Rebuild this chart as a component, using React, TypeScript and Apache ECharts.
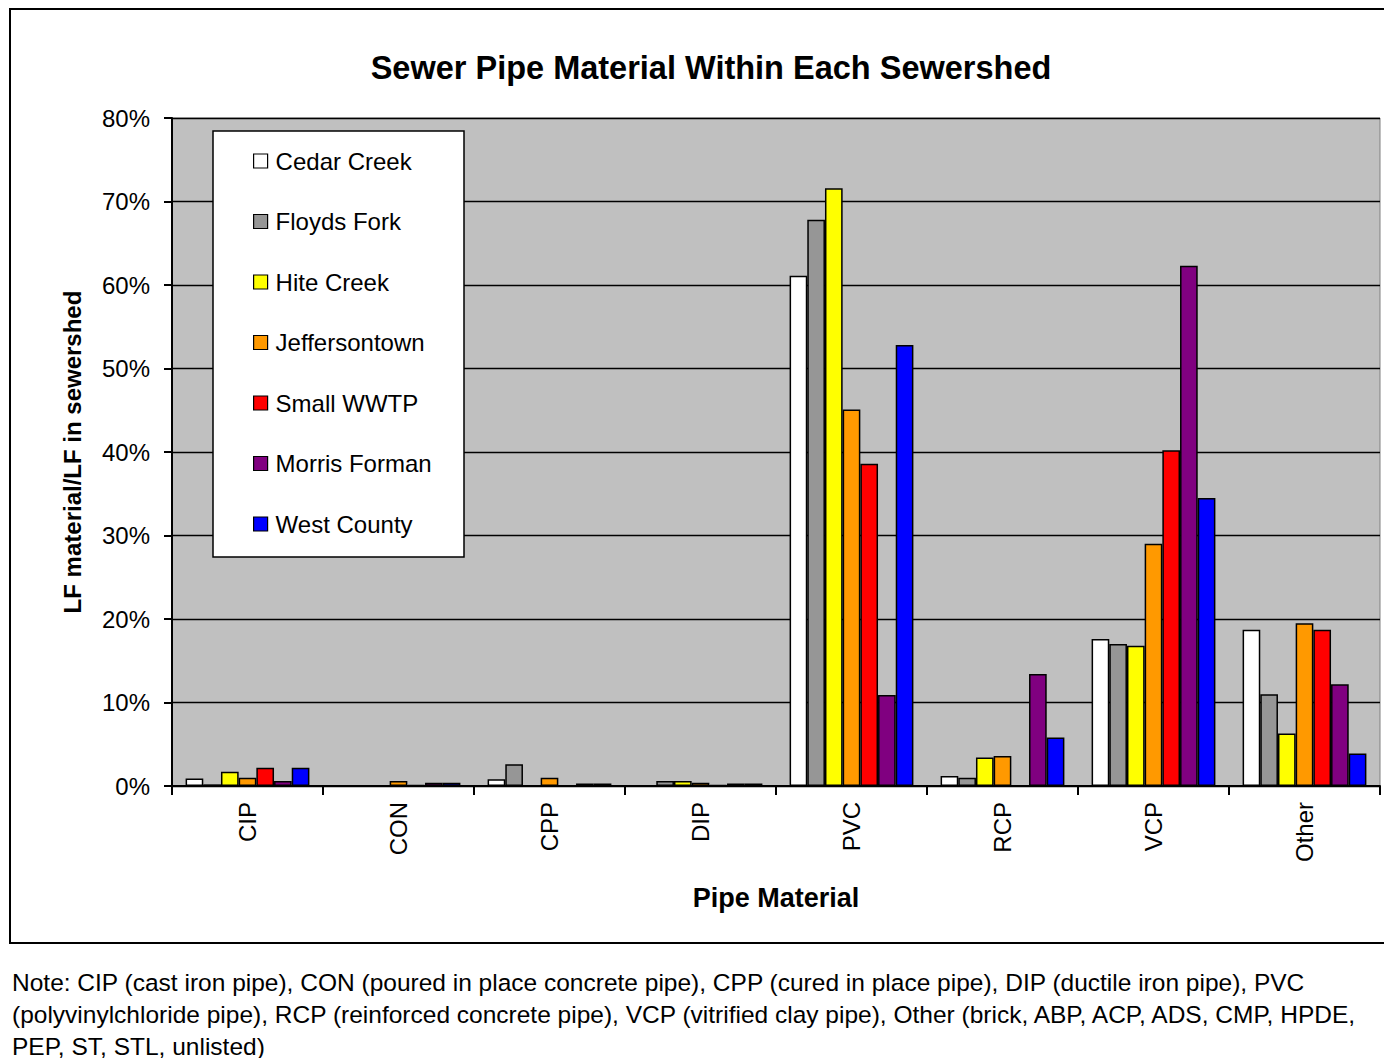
import React, { useEffect, useRef } from "react";
import * as echarts from "echarts";

// Pipe material categories
const categories = ["CIP", "CON", "CPP", "DIP", "PVC", "RCP", "VCP", "Other"];

// Share of linear feet (percent) per sewershed, in category order
const cedarCreek = [0.9, 0, 0.8, 0, 61.1, 1.2, 17.6, 18.7];
const floydsFork = [0.2, 0, 2.6, 0.6, 67.8, 1.0, 17.0, 11.0];
const hiteCreek = [1.7, 0, 0, 0.6, 71.6, 3.4, 16.8, 6.3];
const jeffersontown = [1.0, 0.6, 1.0, 0.4, 45.1, 3.6, 29.0, 19.5];
const smallWWTP = [2.2, 0.1, 0, 0.1, 38.6, 0, 40.2, 18.7];
const morrisForman = [0.6, 0.4, 0.3, 0.3, 10.9, 13.4, 62.3, 12.2];
const westCounty = [2.2, 0.4, 0.3, 0.3, 52.8, 5.8, 34.5, 3.9];

const seriesNames = [
  "Cedar Creek",
  "Floyds Fork",
  "Hite Creek",
  "Jeffersontown",
  "Small WWTP",
  "Morris Forman",
  "West County",
];
const seriesValues = [
  cedarCreek,
  floydsFork,
  hiteCreek,
  jeffersontown,
  smallWWTP,
  morrisForman,
  westCounty,
];
const seriesColors = [
  "#FFFFFF",
  "#969696",
  "#FFFF00",
  "#FF9900",
  "#FF0000",
  "#800080",
  "#0000FF",
];

const noteLines = [
  "Note: CIP (cast iron pipe), CON (poured in place concrete pipe), CPP (cured in place pipe), DIP (ductile iron pipe), PVC",
  "(polyvinylchloride pipe), RCP (reinforced concrete pipe), VCP (vitrified clay pipe), Other (brick, ABP, ACP, ADS, CMP, HPDE,",
  "PEP, ST, STL, unlisted)",
];

const FONT = "'Liberation Sans', Arial, sans-serif";

export default function App() {
  const ref = useRef<HTMLDivElement>(null);

  useEffect(() => {
    if (!ref.current) return;
    const chart = echarts.init(ref.current, null, { renderer: "svg" });

    chart.setOption({
      animation: false,
      backgroundColor: "#FFFFFF",
      textStyle: { fontFamily: FONT, color: "#000" },
      title: {
        text: "Sewer Pipe Material Within Each Sewershed",
        left: 706,
        top: 46,
        textAlign: "center",
        textStyle: { fontFamily: FONT, fontSize: 32.5, fontWeight: "bold", color: "#000" },
      },
      grid: {
        left: 172,
        right: 4,
        top: 118,
        bottom: 272,
        show: true,
        backgroundColor: "#C0C0C0",
        borderColor: "#808080",
        borderWidth: 1,
      },
      legend: {
        orient: "vertical",
        left: 253,
        top: 149,
        padding: 0,
        itemWidth: 14,
        itemHeight: 14,
        itemGap: 36.5,
        icon: "rect",
        z: 6,
        itemStyle: { borderColor: "#000", borderWidth: 1.2 },
        textStyle: { fontFamily: FONT, fontSize: 24, lineHeight: 24, color: "#000", padding: [0, 0, 0, 3] },
        data: seriesNames,
      },
      xAxis: {
        type: "category",
        data: categories,
        boundaryGap: true,
        name: "Pipe Material",
        nameLocation: "middle",
        nameGap: 98,
        nameTextStyle: { fontFamily: FONT, fontSize: 27, fontWeight: "bold", color: "#000" },
        axisLine: { lineStyle: { color: "#000", width: 2 } },
        axisTick: { show: true, length: 9, lineStyle: { color: "#000", width: 2 } },
        axisLabel: {
          rotate: 90,
          margin: 16,
          fontFamily: FONT,
          fontSize: 24,
          color: "#000",
        },
      },
      yAxis: {
        type: "value",
        min: 0,
        max: 80,
        interval: 10,
        name: "LF material/LF in sewershed",
        nameLocation: "middle",
        nameGap: 88,
        nameTextStyle: { fontFamily: FONT, fontSize: 24, fontWeight: "bold", color: "#000" },
        axisLine: { show: true, lineStyle: { color: "#000", width: 2 } },
        axisTick: { show: true, length: 8, lineStyle: { color: "#000", width: 2 } },
        axisLabel: {
          formatter: "{value}%",
          margin: 22,
          fontFamily: FONT,
          fontSize: 24,
          color: "#000",
        },
        splitLine: { show: true, lineStyle: { color: "#000", width: 1.3 } },
      },
      series: seriesNames.map((name, i) => ({
        name,
        type: "bar",
        data: seriesValues[i],
        barGap: "0%",
        barCategoryGap: "18%",
        itemStyle: {
          color: seriesColors[i],
          borderColor: "#000",
          borderWidth: 1.5,
        },
      })),
      graphic: [
        {
          type: "rect",
          z: 1,
          shape: { x: 10, y: 9, width: 1390, height: 934 },
          style: { fill: "none", stroke: "#000", lineWidth: 2 },
          silent: true,
        },
        {
          type: "rect",
          z: 5,
          shape: { x: 213, y: 131, width: 251, height: 426 },
          style: { fill: "#FFFFFF", stroke: "#000", lineWidth: 1.5 },
          silent: true,
        },
        ...noteLines.map((line, i) => ({
          type: "text",
          x: 12,
          y: 982 + i * 32,
          style: {
            text: line,
            fontFamily: FONT,
            fontSize: 24.5,
            fill: "#000",
            textVerticalAlign: "middle",
          },
        })),
      ],
    });

    return () => chart.dispose();
  }, []);

  return (
    <div
      ref={ref}
      style={{ position: "absolute", left: 0, top: 0, width: 1384, height: 1058 }}
    />
  );
}
